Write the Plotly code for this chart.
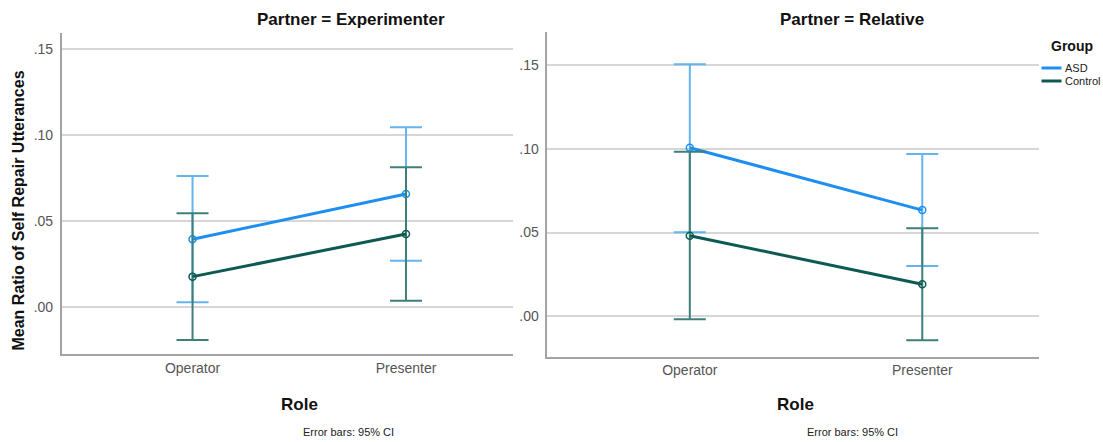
import plotly.graph_objects as go

# ---- data -------------------------------------------------------------
roles = ["Operator", "Presenter"]
groups = ["ASD", "Control"]
partners = ["Experimenter", "Relative"]

# mean ratio and 95% CI bounds, Partner = Experimenter
exp_asd_mean = [0.0395, 0.0659]
exp_asd_upper = [0.0763, 0.1047]
exp_asd_lower = [0.0029, 0.0271]
exp_ctrl_mean = [0.0178, 0.0426]
exp_ctrl_upper = [0.0547, 0.0814]
exp_ctrl_lower = [-0.0190, 0.0038]

# mean ratio and 95% CI bounds, Partner = Relative
rel_asd_mean = [0.1006, 0.0634]
rel_asd_upper = [0.1505, 0.0968]
rel_asd_lower = [0.0501, 0.0300]
rel_ctrl_mean = [0.0481, 0.0191]
rel_ctrl_upper = [0.0982, 0.0525]
rel_ctrl_lower = [-0.0018, -0.0143]

y_tick_values = [0.0, 0.05, 0.10, 0.15]
y_tick_labels = [".00", ".05", ".10", ".15"]

# ---- styling ----------------------------------------------------------
W, H = 1103, 442
FONT = "Liberation Sans, Arial, Helvetica, sans-serif"
line_colors = {"ASD": "#1E8FF0", "Control": "#0C5A52"}
err_colors = {"ASD": "#64B4EE", "Control": "#3D7F79"}
AXIS_COLOR = "#A3A3A3"
GRID_COLOR = "#D6D6D6"
TICK_FONT = dict(family=FONT, size=14, color="#555555")


def px(x):
    return x / W


def py(y):
    return 1 - y / H


panels = [
    dict(partner=partners[0], xa="x", ya="y",
         series={"ASD": (exp_asd_mean, exp_asd_upper, exp_asd_lower),
                 "Control": (exp_ctrl_mean, exp_ctrl_upper, exp_ctrl_lower)}),
    dict(partner=partners[1], xa="x2", ya="y2",
         series={"ASD": (rel_asd_mean, rel_asd_upper, rel_asd_lower),
                 "Control": (rel_ctrl_mean, rel_ctrl_upper, rel_ctrl_lower)}),
]

fig = go.Figure()
for p in panels:
    for g in groups:
        mean, upper, lower = p["series"][g]
        fig.add_trace(go.Scatter(
            x=roles, y=mean, name=g, mode="lines+markers",
            xaxis=p["xa"], yaxis=p["ya"], showlegend=False,
            line=dict(color=line_colors[g], width=3),
            marker=dict(symbol="circle-open", size=7, color=line_colors[g],
                        line=dict(width=1.5, color=line_colors[g])),
            error_y=dict(type="data", symmetric=False,
                         array=[u - m for u, m in zip(upper, mean)],
                         arrayminus=[m - lo for m, lo in zip(mean, lower)],
                         color=err_colors[g], thickness=2, width=16),
        ))

xaxis_common = dict(
    type="category", range=[-0.613, 1.5], showgrid=False, zeroline=False,
    showline=True, linecolor=AXIS_COLOR, linewidth=1.5, ticks="",
    tickfont=TICK_FONT, fixedrange=True,
)
yaxis_common = dict(
    tickvals=y_tick_values, ticktext=y_tick_labels, showgrid=True,
    gridcolor=GRID_COLOR, gridwidth=2, zeroline=False, showline=True,
    linecolor=AXIS_COLOR, linewidth=1.5, ticks="", ticklabelstandoff=4,
    tickfont=TICK_FONT, fixedrange=True,
)

fig.update_layout(
    width=W, height=H,
    margin=dict(l=0, r=0, t=0, b=0),
    paper_bgcolor="white", plot_bgcolor="white",
    font=dict(family=FONT),
    xaxis=dict(xaxis_common, domain=[px(61.7), px(512.7)], anchor="y"),
    yaxis=dict(yaxis_common, domain=[py(354), py(33)], range=[-0.0272, 0.1595],
               anchor="x"),
    xaxis2=dict(xaxis_common, domain=[px(547.3), px(1038.5)], anchor="y2"),
    yaxis2=dict(yaxis_common, domain=[py(356.7), py(32.3)], range=[-0.0241, 0.1695],
                anchor="x2"),
)

annotations = []


def text(x, y, s, size, bold=False, color="#111111", angle=0, xanchor="center"):
    annotations.append(dict(
        x=px(x), y=py(y), xref="paper", yref="paper", text=f"<b>{s}</b>" if bold else s,
        showarrow=False, xanchor=xanchor, yanchor="middle", textangle=angle,
        font=dict(family=FONT, size=size, color=color),
    ))


# panel titles, axis titles and footnotes
text(351, 20, "Partner = " + partners[0], 17, bold=True)
text(852, 20, "Partner = " + partners[1], 17, bold=True)
text(299, 404, "Role", 17, bold=True)
text(795, 404, "Role", 17, bold=True)
text(348, 432, "Error bars: 95% CI", 11, color="#222222")
text(852, 432, "Error bars: 95% CI", 11, color="#222222")
text(17.5, 211, "Mean Ratio of Self Repair Utterances", 16, bold=True, angle=-90)

# legend
text(1072, 46, "Group", 14, bold=True)
shapes = []
for g, ly in zip(groups, [68, 81]):
    shapes.append(dict(type="line", xref="paper", yref="paper",
                       x0=px(1041.5), x1=px(1061.5), y0=py(ly), y1=py(ly),
                       line=dict(color=line_colors[g], width=3)))
    text(1063, ly, g, 11, color="#222222", xanchor="left")

fig.update_layout(annotations=annotations, shapes=shapes)

fig.write_html("out.html")
